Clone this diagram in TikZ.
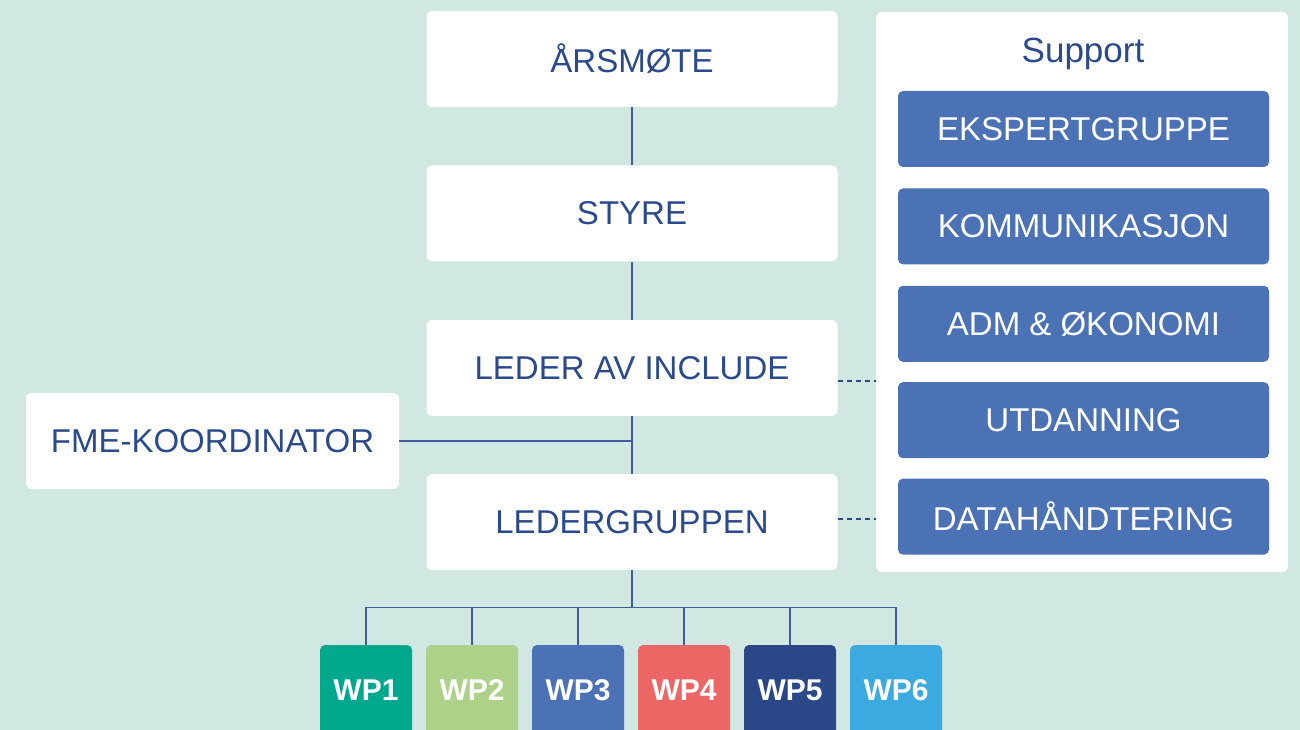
\documentclass[tikz,border=0pt]{standalone}
\usepackage{fontspec}
\setmainfont{Liberation Sans}
\usetikzlibrary{positioning}
\definecolor{bgmint}{HTML}{D1E7E1}
\definecolor{navytext}{HTML}{2B4A8B}
\definecolor{linkblue}{HTML}{3F5C9E}
\definecolor{supblue}{HTML}{4A72B5}
\definecolor{wpone}{HTML}{00A88E}
\definecolor{wptwo}{HTML}{ADD188}
\definecolor{wpthree}{HTML}{4A72B5}
\definecolor{wpfour}{HTML}{EC6666}
\definecolor{wpfive}{HTML}{2A4787}
\definecolor{wpsix}{HTML}{3AAAE0}
\tikzset{
  orgbox/.style={fill=white, rounded corners=6pt, minimum width=411pt, minimum height=96pt,
    inner sep=0pt, text=navytext, font=\fontsize{33}{40}\selectfont},
  supbox/.style={fill=supblue, rounded corners=5pt, minimum width=371pt, minimum height=76pt,
    inner sep=0pt, text=white, font=\fontsize{33}{40}\selectfont},
  wpbox/.style={rounded corners=5pt, minimum width=92pt, minimum height=90pt,
    inner sep=0pt, text=white, font=\bfseries\fontsize{30}{36}\selectfont},
  orgline/.style={draw=linkblue, line width=1.2pt},
  supline/.style={draw=navytext, line width=1.7pt, dash pattern=on 5pt off 4pt}
}
\begin{document}
\begin{tikzpicture}[x=1pt, y=-1pt, node distance=58pt]
                \useasboundingbox (0,0) rectangle (1300,730);
                \clip (0,0) rectangle (1300,730);
                \fill[bgmint] (0,0) rectangle (1300,730);
                % main chain
                \node[orgbox] (aarsmote) at (632,59) {ÅRSMØTE};
                \node[orgbox, below=of aarsmote] (styre) {STYRE};
                \node[orgbox, below=of styre] (leder) {LEDER AV INCLUDE};
                \node[orgbox, below=of leder] (ledergruppen) {LEDERGRUPPEN};
                \node[orgbox, minimum width=373pt] (fme) at (212.5,441) {FME-KOORDINATOR};
                \draw[orgline] (aarsmote) -- (styre);
                \draw[orgline] (styre) -- (leder);
                \draw[orgline] (leder) -- (ledergruppen);
                \draw[orgline] (fme.east) -- (fme.east -| leder.south);
                % support panel
                \node[fill=white, rounded corners=6pt, minimum width=412pt, minimum height=560pt] (support) at (1082,292) {};
                \node[text=navytext, font=\fontsize{35}{42}\selectfont] (suptitle) at (1083,54) {Support};
                \node[supbox] (ekspert) at (1083.5,129) {EKSPERTGRUPPE};
                \node[supbox, below=21pt of ekspert] (komm) {KOMMUNIKASJON};
                \node[supbox, below=21pt of komm] (adm) {ADM \& ØKONOMI};
                \node[supbox, below=20pt of adm] (utd) {UTDANNING};
                \node[supbox, below=20pt of utd] (data) {DATAHÅNDTERING};
                \draw[supline] ([yshift=-13pt]leder.east) -- ([yshift=-13pt]leder.east -| support.west);
                \draw[supline] ([yshift=3pt]ledergruppen.east) -- ([yshift=3pt]ledergruppen.east -| support.west);
                % work packages
                \coordinate (bus) at ([yshift=-37pt]ledergruppen.south);
                \draw[orgline] (ledergruppen) -- (bus);
                \foreach \i/\col [evaluate=\i as \xc using 366+106*(\i-1)] in {1/wpone, 2/wptwo, 3/wpthree, 4/wpfour, 5/wpfive, 6/wpsix}{
                  \node[wpbox, fill=\col] (wp\i) at (\xc,690) {WP\i};
                  \draw[orgline] (wp\i.north) |- (bus);
                }
            \end{tikzpicture}
\end{document}
